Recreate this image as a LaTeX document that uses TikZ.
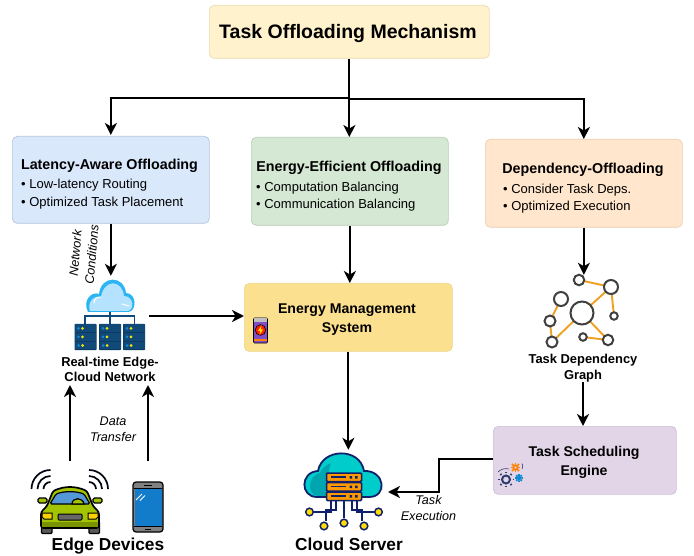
\documentclass[tikz,border=0pt]{standalone}
\usepackage{fontspec}
\setmainfont{Liberation Sans}
\usetikzlibrary{arrows.meta,calc}
\definecolor{navy}{HTML}{10206B}
\definecolor{srv}{HTML}{114A78}
\definecolor{srvd}{HTML}{0B3A63}
\definecolor{lime}{HTML}{A3C400}
\definecolor{org}{HTML}{F0A020}
\definecolor{tealm}{HTML}{00CCCC}\definecolor{teald}{HTML}{00A5B0}
\definecolor{cloudo}{HTML}{2BB5F2}\definecolor{cloudf}{HTML}{B5E3FF}
\definecolor{ctitle}{HTML}{FFF2CC}\definecolor{btitle}{HTML}{EADCB0}
\definecolor{cblue}{HTML}{DAE8FC}\definecolor{bblue}{HTML}{B5C5DC}
\definecolor{cgreen}{HTML}{D5E8D4}\definecolor{bgreen}{HTML}{B8CFB6}
\definecolor{corange}{HTML}{FFE6CC}\definecolor{borange}{HTML}{EBCDAE}
\definecolor{cyel}{HTML}{FBE08F}\definecolor{byel}{HTML}{EFD58A}
\definecolor{cpur}{HTML}{E1D5E7}\definecolor{bpur}{HTML}{CDBFD6}
\tikzset{
 x=1pt,y=-1pt,
 boxn/.style 2 args={draw=#2,fill=#1,rounded corners=5pt,line width=.7pt,anchor=north west,inner sep=0pt},
 head/.style={font=\bfseries\fontsize{14.3}{16}\selectfont,inner sep=0pt},
 bul/.style={font=\fontsize{13}{15}\selectfont,anchor=west,inner sep=0pt},
 capt/.style={font=\bfseries\fontsize{12.9}{15.5}\selectfont,align=center,inner sep=0pt},
 boxt/.style={font=\bfseries\fontsize{14.1}{19}\selectfont,align=center,inner sep=0pt},
 big/.style={font=\bfseries\fontsize{17.3}{19}\selectfont,inner sep=0pt,anchor=base},
 ital/.style={font=\itshape\fontsize{12.6}{16.5}\selectfont,align=center,inner sep=0pt},
 conn/.style={draw=black,line width=2pt,-{Stealth[length=12pt,width=12pt,inset=3.5pt]}},
 plain/.style={draw=black,line width=2pt},
 gnode/.style={circle,draw=black!75,fill=white,line width=2pt,inner sep=0pt},
 gedge/.style={draw=org,line width=1.9pt},
}
\newcommand{\rack}[2]{%
 \fill[rounded corners=.6pt,srvd] (#1,#2) rectangle ++(22,26);
 \foreach \r in {0,1,2}{
  \fill[srv] (#1+.5,#2+.5+8.6*\r) rectangle ++(21,7.6);
  \fill[cyan!70!blue] (#1+4,#2+4.3+8.6*\r) circle (1.5);
  \fill[yellow!90!orange] (#1+8,#2+4.3+8.6*\r) circle (1.5);
 }}
\begin{document}
\begin{tikzpicture}
\useasboundingbox (0,0) rectangle (694,556);
% boxes
\node[boxn={ctitle}{btitle},minimum width=280pt,minimum height=53pt] (title) at (209,5) {};
\node[font=\bfseries\fontsize{19.5}{22}\selectfont,inner sep=0pt] (titletext) at (348,33.5) {Task Offloading Mechanism};
\node[boxn={cblue}{bblue},minimum width=197pt,minimum height=87pt] (lat) at (12,136) {};
\node[boxn={cgreen}{bgreen},minimum width=197pt,minimum height=88pt] (ene) at (251,137) {};
\node[boxn={corange}{borange},minimum width=197pt,minimum height=88pt] (dep) at (485,139) {};
\node[boxn={cyel}{byel},minimum width=208pt,minimum height=68pt] (ems) at (244,283) {};
\node[boxn={cpur}{bpur},minimum width=183pt,minimum height=68pt] (sch) at (493,426) {};
% box text
\node[head] (h1) at (109.5,165.5) {Latency-Aware Offloading};
\node[bul] (b11) at (21,185.5) {• Low-latency Routing};
\node[bul] (b12) at (21,203) {• Optimized Task Placement};
\node[head] (h2) at (349,167.5) {Energy-Efficient Offloading};
\node[bul] (b21) at (256,188.5) {• Computation Balancing};
\node[bul] (b22) at (256,205) {• Communication Balancing};
\node[head] (h3) at (583,169.5) {Dependency-Offloading};
\node[bul] (b31) at (503,190.5) {• Consider Task Deps.};
\node[bul] (b32) at (503,207) {• Optimized Execution};
\node[boxt] (emst) at (347,320) {Energy Management\\System};
\node[boxt] (scht) at (584,462) {Task Scheduling\\Engine};
% captions
\node[capt] (netcap) at (110,369.5) {Real-time Edge-\\Cloud Network};
\node[capt] (graphcap) at (583,368) {Task Dependency\\Graph};
\node[big] (edgecap) at (108,550) {Edge Devices};
\node[big] (cloudcap) at (349,550) {Cloud Server};
\node[ital,rotate=85] (netlab) at (83.5,254) {Network\\Conditions};
\node[ital] (datalab) at (113,429) {Data\\Transfer};
\node[ital] (tasklab) at (428.5,508) {Task\\Execution};
% network icon
\node[inner sep=0pt,minimum width=72pt,minimum height=70pt] (neticon) at (110,311) {};
\draw[line width=1.4pt,srv] (85,324) -- (85,316) -- (134.5,316) -- (134.5,324) (110,312) -- (110,324);
\fill[cloudo] (88,312) .. controls (82,300) and (92,291) .. (99,294)
 .. controls (101,275) and (124,275) .. (126,293)
 .. controls (137,293) and (137,312) .. (128,312) -- cycle;
\fill[cloudf] (90,311) .. controls (87,302) and (94,295) .. (101,297)
 .. controls (104,279) and (122,279) .. (124,296)
 .. controls (134,296) and (135,311) .. (127,311) -- cycle;
\draw[white,line width=1pt,line cap=round] (94,303) .. controls (94,299) and (97,297) .. (101,297);
\draw[white,line width=1pt,line cap=round] (122,304) -- (129,306);
\rack{74.5}{324}\rack{99}{324}\rack{123}{324}
% graph icon
\node[inner sep=0pt,minimum width=70pt,minimum height=75pt] (graphicon) at (582,313) {};
\coordinate (ga) at (582,313);\coordinate (gb) at (611,287);\coordinate (gc) at (579,280);
\coordinate (gd) at (561,299);\coordinate (ge) at (550,321);\coordinate (gf) at (552,342);
\coordinate (gg) at (614,316);\coordinate (gh) at (583,337);\coordinate (gi) at (608,340);
\draw[gedge] (gc)--(gb) (gb)--(ga) (gb)--(gg) (gd)--(ge) (ge)--(gf) (gf)--(ga) (ga)--(gi) (gh)--(gi);
\foreach \p/\d in {ga/23,gb/14,gc/10.5,gd/14,ge/11,gf/11,gg/7.5,gh/7.5,gi/10.5}
  \node[gnode,minimum size=\d pt] at (\p) {};
% battery icon
\node[inner sep=0pt,minimum width=16pt,minimum height=27pt] (batt) at (260.5,330) {};
\draw[black,line width=.7pt,fill=violet!60!blue!70!white,rounded corners=1pt] (253.5,318) rectangle (267.5,343);
\fill[black!25] (254,318) rectangle (267,322);
\fill[orange] (254,339) rectangle (267,340.5);
\draw[black,line width=.6pt,fill=red!75!orange] (260.5,330) circle (5.3);
\fill[yellow!90!orange] (261.5,325.5) -- (258,331) -- (260.3,331) -- (259.5,335) -- (263,329.5) -- (260.8,329.5) -- cycle;
% gear icon
\node[inner sep=0pt,minimum width=26pt,minimum height=24pt] (gears) at (510,475) {};
\foreach \cx/\cy/\ro/\ri/\c in {506/479.5/7.5/4/navy!70!gray,515.5/467.5/4.5/2.2/orange,519/478/3.5/1.7/cyan!70!blue}{
 \foreach \a in {0,45,...,315}
  \draw[\c,line width=1.8pt] ($(\cx,\cy)+(\a:\ro-1)$) -- ($(\cx,\cy)+(\a:\ro+.4)$);
 \draw[\c,line width=2pt] (\cx,\cy) circle (\ri);
}
\draw[navy!70!gray,line width=.6pt] (498,472) .. controls (501,469) and (505,468) .. (509,469);
\draw[navy!70!gray,line width=.6pt] (522,463.5) .. controls (523,465) and (523,467) .. (522,469);
% car icon
\node[inner sep=0pt,minimum width=66pt,minimum height=50pt] (car) at (70,510) {};
\foreach \r in {7,13,19}{
 \draw[black!85!navy,line width=1.7pt] (50.5,489) ++(-180:\r) arc[start angle=-180,end angle=-90,radius=\r];
 \draw[black!85!navy,line width=1.7pt] (89,489) ++(0:\r) arc[start angle=0,end angle=-90,radius=\r];
}
\draw[black,line width=1.3pt,fill=black!65,rounded corners=1pt] (41.5,522) rectangle (52,533.5);
\draw[black,line width=1.3pt,fill=black!65,rounded corners=1pt] (89,522) rectangle (99.5,533.5);
\draw[black,line width=1.3pt,fill=lime,rounded corners=1.5pt] (38,498) rectangle (47,503);
\draw[black,line width=1.3pt,fill=lime,rounded corners=1.5pt] (93,498) rectangle (102,503);
\draw[black,line width=1.7pt,fill=lime,rounded corners=2.5pt] (41,528) -- (41,512) -- (47,506) -- (53,491) .. controls (65,486) and (75,486) .. (87,491) -- (93,506) -- (99,512) -- (99,528) -- cycle;
\fill[black!25!lime] (42,522) rectangle (98,527);
\draw[black,line width=1.2pt,fill=cyan!60!blue!70!white,rounded corners=1.5pt] (50,504) -- (56,494) .. controls (65,491) and (75,491) .. (84,494) -- (90,504) -- cycle;
\draw[black,line width=1.2pt,fill=lime] (72,504) .. controls (72,497) and (83,497) .. (84,504) -- cycle;
\draw[black,line width=1pt,fill=yellow!70!orange] (42,513) -- (52,513) -- (52,519) -- (44,519) -- (42,517) -- cycle;
\draw[black,line width=1pt,fill=yellow!70!orange] (98,513) -- (88,513) -- (88,519) -- (96,519) -- (98,517) -- cycle;
\draw[black,line width=1pt,fill=black!60,rounded corners=1pt] (58,514) rectangle (82,520);
% phone icon
\node[inner sep=0pt,minimum width=30pt,minimum height=50pt] (phone) at (148,507) {};
\draw[black,line width=1.2pt,fill=black!50,rounded corners=3pt] (133,482) rectangle (163,532);
\fill[cyan!60!blue] (134.5,488.5) rectangle (161.5,526);
\draw[black,line width=.8pt] (134,488.5) -- (162,488.5) (134,526) -- (162,526);
\draw[black,line width=.8pt] (144,485.5) -- (152,485.5) (145,529) -- (151,529);
\draw[white,line width=.9pt] (136,500) -- (142,494) (140,500.5) -- (145,495.5);
% cloud server icon
\node[inner sep=0pt,minimum width=80pt,minimum height=76pt] (cloud) at (344,491) {};
\draw[navy,line width=1.8pt,fill=tealm] (326,497) -- (317,497) .. controls (300,497) and (300,472) .. (318,471)
 .. controls (322,448) and (360,447) .. (364,471) .. controls (385,470) and (388,497) .. (369,497) -- cycle;
\fill[teald] (318,495.8) .. controls (306,495) and (308,475) .. (320,473) .. controls (322,468) and (326,465) .. (331,463) .. controls (326,475) and (330,490) .. (336,495.8) -- cycle;
\draw[navy,line width=1.5pt] (336,500) -- (336,510) -- (326,510) -- (326,521) (352,500) -- (352,510) -- (362,510) -- (362,521)
 (344,500) -- (344,518) (331,500) -- (331,512) -- (313,512) (357,500) -- (357,512) -- (375,512);
\foreach \yy in {473,482.5,492}{
 \draw[navy,line width=1.5pt,fill=orange!80!yellow,rounded corners=1pt] (326.5,\yy) rectangle (361.5,\yy+8.5);
 \draw[navy,line width=1.5pt] (331,\yy+4.2) -- (346,\yy+4.2);
 \fill[navy] (349.5,\yy+3) rectangle ++(2.6,2.6) (355,\yy+3) rectangle ++(2.6,2.6);
}
\foreach \cx/\cy in {309.5/512,378.5/512,324/526,344/523,364/526}
 \draw[navy,line width=1.5pt,fill=yellow!80!orange] (\cx,\cy) circle (3.8);
% connectors
\coordinate (j1) at ($(title.south)+(0,39)$);
\coordinate (j2) at ($(title.south)+(0,40.5)$);
\draw[conn] (j1) -- (j1 -| lat.north) -- ($(lat.north)+(0,-1)$);
\draw[plain] (title.south) -- (j2);
\draw[conn] (j2) -- (j2 |- ene.north);
\draw[conn] (j2) -- (j2 -| dep.north) -- (dep.north);
\draw[conn] (lat.south) -- (neticon.north -| lat.south);
\draw[conn] (ene.south) -- (ene.south |- ems.north);
\draw[conn] (dep.south) -- ($(dep.south |- graphicon.north)+(0,-.5)$);
\coordinate (netout) at (149,316);
\draw[conn] (netout) -- (netout -| ems.west);
\coordinate (gcapdown) at (583,382);
\draw[conn] (gcapdown) -- (gcapdown |- sch.north);
\coordinate (emsdown) at ($(cloud.north -| ems.south)+(0,-3)$);
\draw[conn] (ems.south) -- (emsdown);
\coordinate (carup) at (70,461);\coordinate (phup) at (148,461);\coordinate (nettop) at (110,385);
\draw[conn] (carup) -- (carup |- nettop);
\draw[conn] (phup) -- (phup |- nettop);
\coordinate (schout) at (493,459);\coordinate (schelbow) at (439,459);\coordinate (cloudin) at (388,492);
\draw[conn] (schout) -- (schelbow) -- (schelbow |- cloudin) -- (cloudin);
\end{tikzpicture}
\end{document}
